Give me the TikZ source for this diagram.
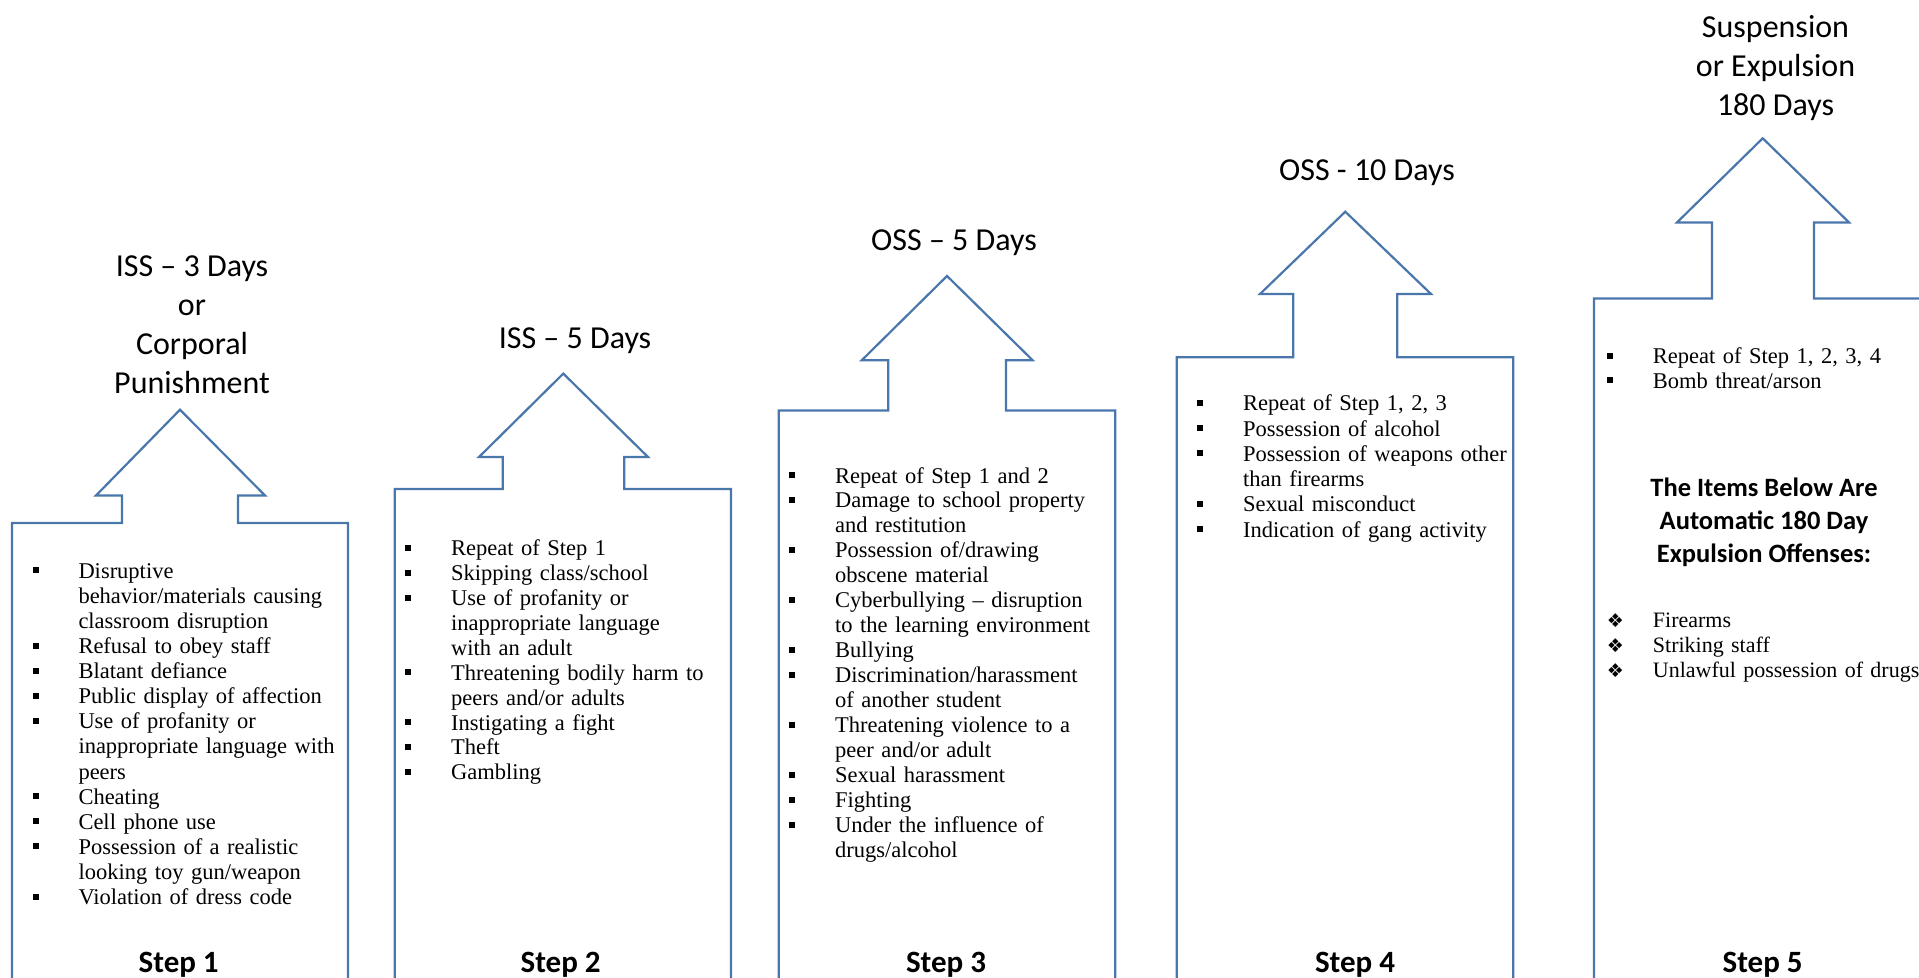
\documentclass[tikz,border=0pt]{standalone}
\usepackage{fontspec}
\setmainfont{Liberation Serif}
\newfontfamily\calfont{Carlito}
\newfontfamily\djfont{DejaVu Sans}
\definecolor{sb}{HTML}{4A77AB}
\newcommand\sqbul{\makebox[46pt][l]{\rule{0pt}{17pt}\raisebox{5pt}{\rule{6pt}{6pt}}}}
\newcommand\dmbul{\makebox[46pt][l]{\rule{0pt}{17pt}\raisebox{0pt}{\djfont\fontsize{19}{19}\selectfont ❖}}}
\newcommand\itm[1]{\noindent\hangindent=46pt\hangafter=1\sqbul#1\par}
\newcommand\ditm[1]{\noindent\hangindent=46pt\hangafter=1\dmbul#1\par}
\tikzset{
  stepshape/.style={draw=sb, line width=2.2pt},
  ttl/.style={font=\calfont\fontsize{32}{39}\selectfont, align=center, anchor=north, inner sep=0pt},
  steplbl/.style={font=\calfont\bfseries\fontsize{31}{37}\selectfont, anchor=base, inner sep=0pt},
  lst/.style={anchor=north west, inner sep=0pt, text width=330pt, align=left, font=\fontsize{22.5}{#1}\selectfont},
  dlst/.style={anchor=north west, inner sep=0pt, text width=330pt, align=left, font=\fontsize{22}{#1}\selectfont},
  bhead/.style={font=\calfont\bfseries\fontsize{26.5}{33}\selectfont, align=center, anchor=north, inner sep=0pt}
}
\begin{document}
\begin{tikzpicture}[x=1pt,y=-1pt]
\useasboundingbox (0,0) rectangle (1919,977);
\clip (0,0) rectangle (1919,977);

% arrow-topped boxes
\draw[stepshape] (12,990) -- (12,523) -- (122,523) -- (122,495.5) -- (96,495.5) -- (180,409.7) -- (265,495.5) -- (238,495.5) -- (238,523) -- (348,523) -- (348,990);
\draw[stepshape] (394.7,990) -- (394.7,489) -- (502.7,489) -- (502.7,457) -- (479,457) -- (563.3,373.6) -- (648,457) -- (624.3,457) -- (624.3,489) -- (731,489) -- (731,990);
\draw[stepshape] (778.7,990) -- (778.7,410.4) -- (888.3,410.4) -- (888.3,360.3) -- (861.7,360.3) -- (947,276) -- (1032.7,360.3) -- (1006,360.3) -- (1006,410.4) -- (1115.3,410.4) -- (1115.3,990);
\draw[stepshape] (1176.7,990) -- (1176.7,357.3) -- (1293.3,357.3) -- (1293.3,294) -- (1260,294) -- (1345.3,211.7) -- (1431,294) -- (1397.3,294) -- (1397.3,357.3) -- (1513.3,357.3) -- (1513.3,990);
\draw[stepshape] (1594,990) -- (1594,298.4) -- (1712,298.4) -- (1712,222.4) -- (1677,222.4) -- (1762.7,138.3) -- (1849,222.4) -- (1814,222.4) -- (1814,298.4) -- (1935,298.4);

% titles
\node[ttl] (t1) at (192,250) {\rule{0pt}{26pt}ISS – 3 Days\\or\\Corporal\\Punishment};
\node[ttl] (t2) at (575,322.5) {\rule{0pt}{26pt}ISS – 5 Days};
\node[ttl] (t3) at (954,224.7) {\rule{0pt}{26pt}OSS – 5 Days};
\node[ttl] (t4) at (1367,154.6) {\rule{0pt}{26pt}OSS - 10 Days};
\node[ttl] (t5) at (1775.5,11) {\rule{0pt}{26pt}Suspension\\or Expulsion\\180 Days};

% step labels
\node[steplbl] (s1) at (178.7,972) {Step 1};
\node[steplbl] (s2) at (560.6,972) {Step 2};
\node[steplbl] (s3) at (946,972) {Step 3};
\node[steplbl] (s4) at (1355,972) {Step 4};
\node[steplbl] (s5) at (1762.6,972) {Step 5};

% lists
\node[lst=25.1] (l1) at (32.3,561) {%
\itm{Disruptive\newline behavior/materials causing\newline classroom disruption}
\itm{Refusal to obey staff}
\itm{Blatant defiance}
\itm{Public display of affection}
\itm{Use of profanity or\newline inappropriate language with\newline peers}
\itm{Cheating}
\itm{Cell phone use}
\itm{Possession of a realistic\newline looking toy gun/weapon}
\itm{Violation of dress code}};

\node[lst=24.9] (l2) at (405,538.5) {%
\itm{Repeat of Step 1}
\itm{Skipping class/school}
\itm{Use of profanity or\newline inappropriate language\newline with an adult}
\itm{Threatening bodily harm to\newline peers and/or adults}
\itm{Instigating a fight}
\itm{Theft}
\itm{Gambling}};

\node[lst=24.97] (l3) at (789,465.8) {%
\itm{Repeat of Step 1 and 2}
\itm{Damage to school property\newline and restitution}
\itm{Possession of/drawing\newline obscene material}
\itm{Cyberbullying – disruption\newline to the learning environment}
\itm{Bullying}
\itm{Discrimination/harassment\newline of another student}
\itm{Threatening violence to a\newline peer and/or adult}
\itm{Sexual harassment}
\itm{Fighting}
\itm{Under the influence of\newline drugs/alcohol}};

\node[lst=25.3] (l4) at (1197,393.5) {%
\itm{Repeat of Step 1, 2, 3}
\itm{Possession of alcohol}
\itm{Possession of weapons other\newline than firearms}
\itm{Sexual misconduct}
\itm{Indication of gang activity}};

\node[lst=24.5] (l5) at (1606.7,346.5) {%
\itm{Repeat of Step 1, 2, 3, 4}
\itm{Bomb threat/arson}};

\node[bhead] (h5) at (1764,474.5) {\rule{0pt}{22pt}The Items Below Are\\Automatic 180 Day\\Expulsion Offenses:};

\node[dlst=25] (d5) at (1606.7,610) {%
\ditm{Firearms}
\ditm{Striking staff}
\ditm{Unlawful possession of drugs}};
\end{tikzpicture}
\end{document}
